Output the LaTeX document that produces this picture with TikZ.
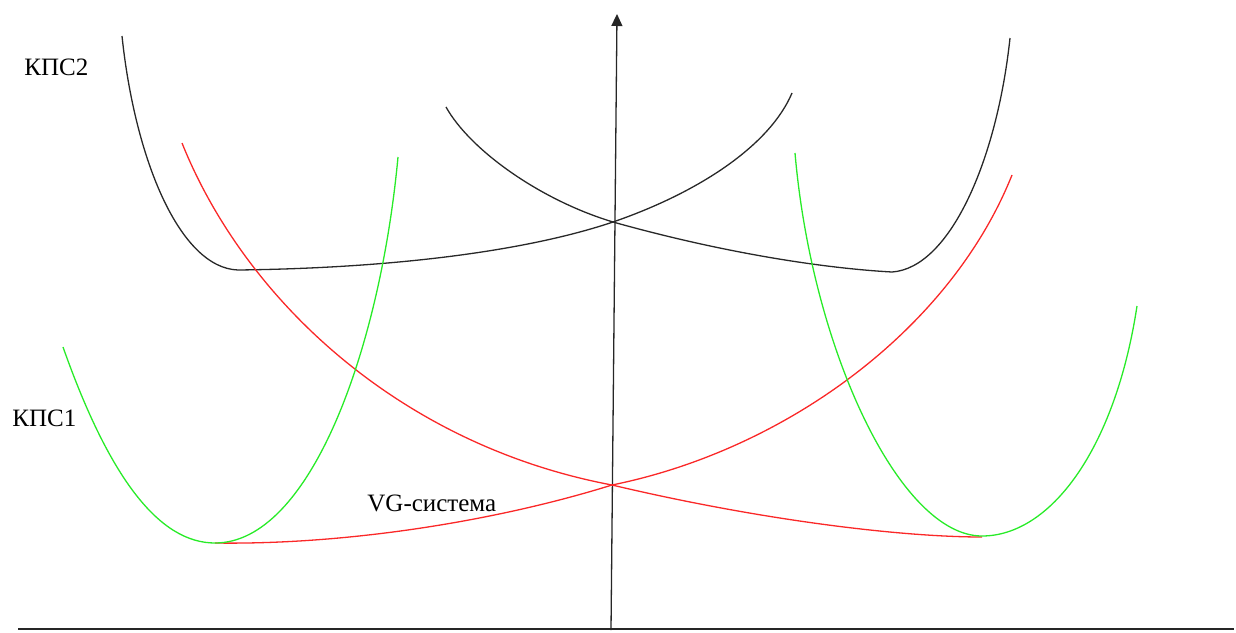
\documentclass[tikz,border=0pt]{standalone}
\usepackage{fontspec}
\setmainfont{Liberation Serif}
\usepackage{xcolor}
\usetikzlibrary{arrows.meta}
\definecolor{curveG}{RGB}{40,235,40}
\definecolor{curveR}{RGB}{250,40,40}
\definecolor{curveK}{RGB}{40,40,40}
\tikzset{
  axis/.style   = {line width=0.65pt, draw=black!85},
  kps/.style    = {line width=0.65pt, draw=curveK},
  vgcurve/.style= {line width=0.65pt, draw=curveR},
  cost/.style   = {line width=0.65pt, draw=curveG},
  lbl/.style    = {anchor=west, inner sep=0pt, font=\fontsize{12.5}{14}\selectfont},
}

\begin{document}
\begin{tikzpicture}[x=0.5pt, y=-0.5pt]

    \useasboundingbox (0,0) rectangle (1236,632);

    % axes
    \coordinate (o)  at (611,630);
    \coordinate (yt) at (617,14);
    \coordinate (xl) at (18,629);
    \coordinate (xr) at (1234,629);
    \draw[axis] (xl) -- (xr);
    \draw[axis, -{Triangle[width=5.5pt, length=6pt]}] (o) -- (yt);

    % KPS2 curves
    \draw[kps] (122,36) .. controls (135,160) and (180,268) .. (238,270)
               .. controls (400,268) and (530,250) .. (613,222)
               .. controls (700,192) and (770,145) .. (792,93);
    \draw[kps] (446,107) .. controls (470,150) and (540,200) .. (613,222)
               .. controls (720,252) and (820,268) .. (892,272)
               .. controls (950,268) and (997,160) .. (1010,38);

    % VG-system curves
    \draw[vgcurve] (182,143) .. controls (245,300) and (400,445) .. (612,485)
                   .. controls (760,520) and (900,537) .. (982,537);
    \draw[vgcurve] (215,543) .. controls (350,545) and (500,520) .. (612,485)
                   .. controls (785,450) and (950,330) .. (1012,175);

    % KPS1 curves
    \draw[cost] (63,347) .. controls (110,480) and (160,543) .. (215,543)
                .. controls (310,543) and (380,350) .. (398,157);
    \draw[cost] (795,153) .. controls (812,350) and (900,536) .. (982,536)
                .. controls (1050,536) and (1115,450) .. (1137,306);

    \node[lbl] (kps2) at (24,67)  {КПС2};
    \node[lbl] (kps1) at (12,418) {КПС1};
    \node[lbl] (vg)   at (367,503) {VG-система};

\end{tikzpicture}
\end{document}
